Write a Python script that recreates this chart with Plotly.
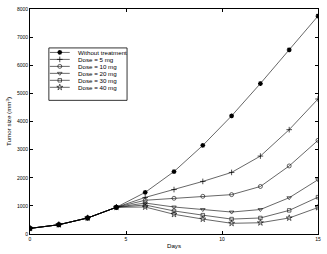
import plotly.graph_objects as go

days = [0, 1.5, 3, 4.5, 6, 7.5, 9, 10.5, 12, 13.5, 15]
without_treatment = [200, 330, 570, 950, 1480, 2220, 3150, 4200, 5350, 6550, 7750]
dose_5 = [200, 330, 570, 950, 1300, 1580, 1870, 2190, 2770, 3710, 4800]
dose_10 = [200, 330, 570, 950, 1200, 1270, 1340, 1400, 1690, 2420, 3330]
dose_20 = [200, 330, 570, 950, 1100, 960, 870, 780, 870, 1290, 1930]
dose_30 = [200, 330, 570, 950, 1030, 820, 670, 530, 570, 840, 1310]
dose_40 = [200, 330, 570, 950, 960, 700, 530, 380, 400, 570, 940]

names = ["Without treatment", "Dose = 5 mg", "Dose = 10 mg", "Dose = 20 mg", "Dose = 30 mg", "Dose = 40 mg"]
series = [without_treatment, dose_5, dose_10, dose_20, dose_30, dose_40]
x_ticks = [0, 5, 10, 15]
y_ticks = [0, 1000, 2000, 3000, 4000, 5000, 6000, 7000, 8000]

symbols = ["asterisk-open", "cross-thin-open", "circle-open", "triangle-down-open", "square-open", "star-open"]
sizes = [4, 4, 4, 4, 3.5, 4.5]
mlw = [1.3, 0.7, 0.6, 0.6, 0.6, 0.6]

fig = go.Figure()
for name, vals, sym, sz, lw in zip(names, series, symbols, sizes, mlw):
    fig.add_trace(go.Scatter(
        x=days, y=vals, name=name, mode="lines+markers", showlegend=False,
        line=dict(color="black", width=0.6),
        marker=dict(symbol=sym, size=sz, color="black", line=dict(color="black", width=lw)),
    ))

# custom compact legend (paper coordinates)
lx0, lx1, ly0, ly1 = 0.0655, 0.337, 0.594, 0.827
row0, row_step = 0.807, 0.031
seg_x0, seg_x1, mark_x, text_x = 0.069, 0.138, 0.1034, 0.159
shapes = [dict(type="rect", xref="paper", yref="paper", x0=lx0, x1=lx1, y0=ly0, y1=ly1,
               line=dict(color="black", width=0.8), fillcolor="white", layer="below")]
annotations = []
for i, (name, sym, sz, lw) in enumerate(zip(names, symbols, sizes, mlw)):
    yy = row0 - i * row_step
    shapes.append(dict(type="line", xref="paper", yref="paper", x0=seg_x0, x1=seg_x1, y0=yy, y1=yy,
                       line=dict(color="black", width=0.6), layer="below"))
    annotations.append(dict(xref="paper", yref="paper", x=text_x, y=yy, text=name, showarrow=False,
                            xanchor="left", yanchor="middle", font=dict(size=6.2, color="black")))
    fig.add_trace(go.Scatter(x=[mark_x], y=[yy], xaxis="x2", yaxis="y2", mode="markers",
                             showlegend=False, hoverinfo="skip",
                             marker=dict(symbol=sym, size=sz, color="black",
                                         line=dict(color="black", width=lw))))

axis_common = dict(showline=True, linecolor="black", linewidth=1, mirror="ticks",
                   ticks="inside", ticklen=3, tickcolor="black", tickwidth=0.7, showgrid=False,
                   zeroline=False, tickfont=dict(size=5, family="Liberation Sans", color="black"))

fig.update_layout(
    width=327, height=254,
    margin=dict(l=30, r=7, t=6, b=19),
    paper_bgcolor="white", plot_bgcolor="white",
    font=dict(family="Liberation Sans", size=6, color="black"),
    xaxis=dict(range=[0, 15], tickvals=x_ticks,
               title=dict(text="Days", font=dict(size=6.2), standoff=2), **axis_common),
    yaxis=dict(range=[0, 8000], tickvals=y_ticks,
               title=dict(text="Tumor size (mm<sup>3</sup>)", font=dict(size=6.2), standoff=4),
               **axis_common),
    xaxis2=dict(overlaying="x", range=[0, 1], visible=False, fixedrange=True),
    yaxis2=dict(overlaying="y", range=[0, 1], visible=False, fixedrange=True),
    shapes=shapes,
    annotations=annotations,
    showlegend=False,
)
fig.write_html("out.html", config={"displayModeBar": False},
               post_script="document.body.style.margin='0';")
